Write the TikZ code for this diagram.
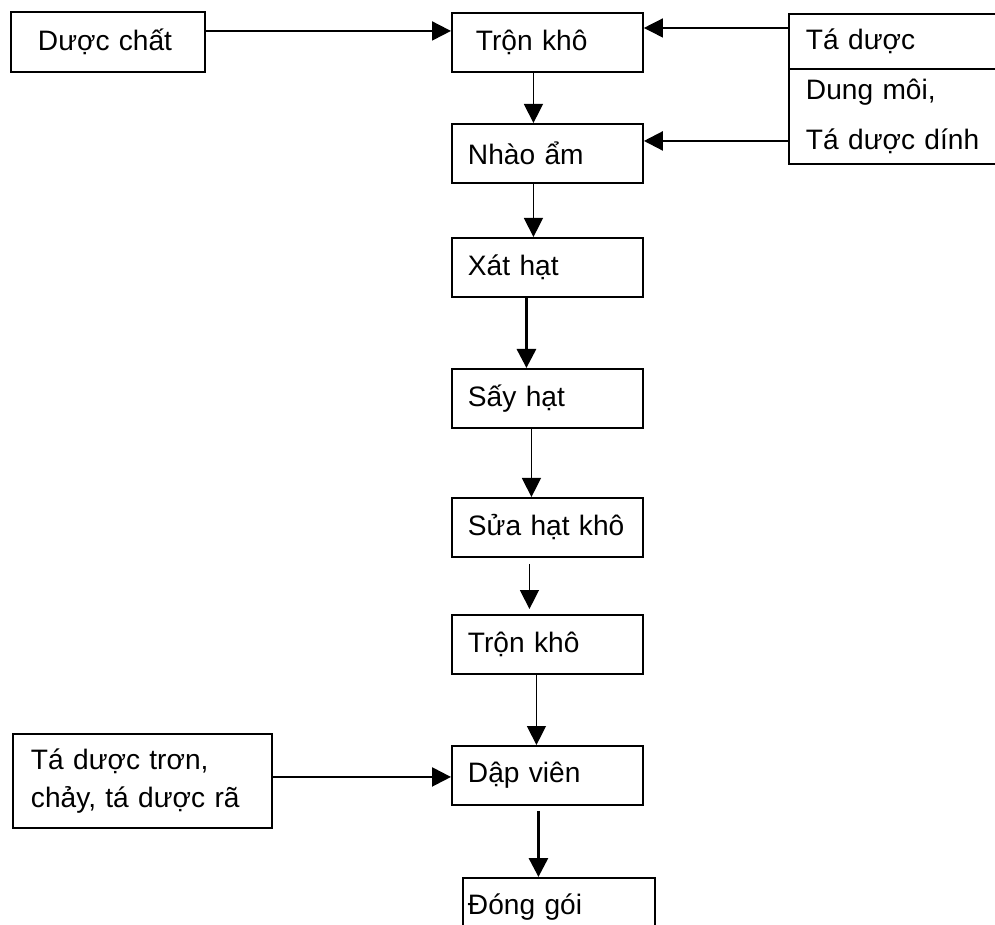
\documentclass[tikz,border=0pt]{standalone}
\usepackage{fontspec}
\setmainfont{Liberation Sans}
\usetikzlibrary{arrows.meta}

\begin{document}
\begin{tikzpicture}[x=0.02cm, y=-0.02cm,
  >={Triangle[width=0.38cm,length=0.38cm]},
  kasten/.style={draw, line width=1.1pt, anchor=north west, align=left,
    inner xsep=0.32cm, inner ysep=0pt, font=\fontsize{16}{19}\selectfont},
  haupt/.style={kasten, text width=3.18cm, minimum height=1.18cm},
  duenn/.style={->, line width=0.8pt},
  dick/.style={->, line width=1.7pt}]

\useasboundingbox (0,0) rectangle (995,925);
\clip (0,0) rectangle (995,925);

% Hauptkette der Arbeitsschritte, alle linksbuendig untereinander
\node[haupt] (tron1) at (451,12) {\hspace*{0.16cm}Trộn khô};
\node[haupt] (nhao) at (451,123) {Nhào ẩm};
\node[haupt] (xat) at (451,237) {Xát hạt};
\node[haupt] (say) at (451,368) {Sấy hạt};
\node[haupt] (sua) at (451,497) {Sửa hạt khô};
\node[haupt] (tron2) at (451,614) {Trộn khô};
\node[haupt] (dap) at (451,745) {Dập viên};
\node[haupt, inner xsep=0.1cm, text width=3.64cm] (dong) at (462,877) {Đóng gói};

% Zugaben links und rechts
\node[kasten, text width=3.24cm, minimum height=1.2cm] (wirk) at (10,11) {\hspace*{0.22cm}Dược chất};
\node[kasten, inner xsep=0.34cm, text width=4.36cm, minimum height=1.1cm] (tadu) at (788,13) {Tá dược};
\node[kasten, inner xsep=0.34cm, text width=4.36cm, minimum height=1.9cm,
  font=\fontsize{16}{28.5}\selectfont] (dung) at (788,68) {Dung môi,\\Tá dược dính};
\node[kasten, inner xsep=0.36cm, text width=4.46cm, minimum height=1.88cm,
  font=\fontsize{16}{21.6}\selectfont] (troen) at (12,733) {Tá dược trơn,\\chảy, tá dược rã};

% waagrechte Pfeile in die Kette
\draw[duenn, line width=1.1pt] ([yshift=0.22cm]wirk.east) -- ([yshift=0.22cm]wirk.east -| tron1.west);
\draw[duenn] ([yshift=0.27cm]tadu.west) -- ([yshift=0.27cm]tadu.west -| tron1.east);
\draw[dick, line width=1.3pt] ([yshift=-0.49cm]dung.west) -- ([yshift=-0.49cm]dung.west -| nhao.east);
\draw[dick, line width=1.3pt] ([yshift=0.08cm]troen.east) -- ([yshift=0.08cm]troen.east -| dap.west);

% senkrechte Pfeile von Schritt zu Schritt
\draw[duenn] ([xshift=-0.28cm]tron1.south) -- ([xshift=-0.28cm]tron1.south |- nhao.north);
\draw[duenn] ([xshift=-0.28cm]nhao.south) -- ([xshift=-0.28cm]nhao.south |- xat.north);
\draw[dick] ([xshift=-0.42cm]xat.south) -- ([xshift=-0.42cm]xat.south |- say.north);
\draw[duenn] ([xshift=-0.32cm]say.south) -- ([xshift=-0.32cm]say.south |- sua.north);
\draw[duenn, shorten <=0.12cm, shorten >=0.1cm] ([xshift=-0.36cm]sua.south) -- ([xshift=-0.36cm]sua.south |- tron2.north);
\draw[duenn] ([xshift=-0.22cm]tron2.south) -- ([xshift=-0.22cm]tron2.south |- dap.north);
\draw[dick, shorten <=0.1cm] ([xshift=-0.18cm]dap.south) -- ([xshift=-0.18cm]dap.south |- dong.north);

\end{tikzpicture}
\end{document}
